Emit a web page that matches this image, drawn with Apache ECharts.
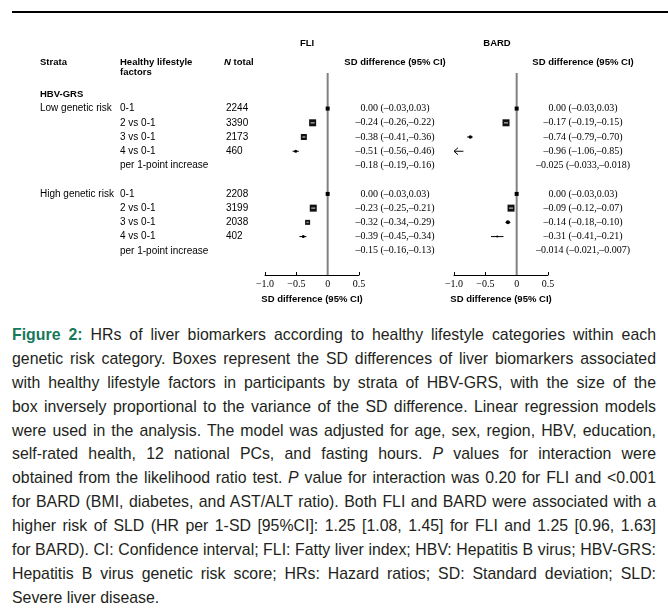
<!DOCTYPE html>
<html><head><meta charset="utf-8">
<script src="https://cdn.jsdelivr.net/npm/echarts@6/dist/echarts.min.js"></script>
<style>
html,body{margin:0;padding:0;background:#fff;}
#chart{position:absolute;left:0;top:0;width:668px;height:320px;}
#cap{position:absolute;left:12px;top:323px;width:644px;font-family:'Liberation Sans',Arial,sans-serif;font-size:17px;line-height:23.9px;color:#231f20;}
#cap .ln{transform-origin:0 0;text-align:justify;text-align-last:justify;height:23.9px;}
#cap .ln.last{text-align-last:left;}
#cap .fig{color:#16795b;font-weight:bold;}
</style></head>
<body>
<div id="chart"></div>
<div id="cap"></div>
<script>
// ---------- data ----------
var lifestyleLabels = ['0-1', '2 vs 0-1', '3 vs 0-1', '4 vs 0-1', 'per 1-point increase'];
var strataLabels = ['Low genetic risk', 'High genetic risk'];
var nLow = [2244, 3390, 2173, 460];
var nHigh = [2208, 3199, 2038, 402];

var fliLowEst = [0.00, -0.24, -0.38, -0.51, -0.18];
var fliLowLo  = [-0.03, -0.26, -0.41, -0.56, -0.19];
var fliLowHi  = [0.03, -0.22, -0.36, -0.46, -0.16];
var fliHighEst = [0.00, -0.23, -0.32, -0.39, -0.15];
var fliHighLo  = [-0.03, -0.25, -0.34, -0.45, -0.16];
var fliHighHi  = [0.03, -0.21, -0.29, -0.34, -0.13];

var bardLowEst = [0.00, -0.17, -0.74, -0.96, -0.025];
var bardLowLo  = [-0.03, -0.19, -0.79, -1.06, -0.033];
var bardLowHi  = [0.03, -0.15, -0.70, -0.85, -0.018];
var bardHighEst = [0.00, -0.09, -0.14, -0.31, -0.014];
var bardHighLo  = [-0.03, -0.12, -0.18, -0.41, -0.021];
var bardHighHi  = [0.03, -0.07, -0.10, -0.21, -0.007];

var xTicks = [-1.0, -0.5, 0, 0.5];

var captionLines = [
 '<span class="fig">Figure 2:</span> HRs of liver biomarkers according to healthy lifestyle categories within each',
 'genetic risk category. Boxes represent the SD differences of liver biomarkers associated',
 'with healthy lifestyle factors in participants by strata of HBV-GRS, with the size of the',
 'box inversely proportional to the variance of the SD difference. Linear regression models',
 'were used in the analysis. The model was adjusted for age, sex, region, HBV, education,',
 'self-rated health, 12 national PCs, and fasting hours. <i>P</i> values for interaction were',
 'obtained from the likelihood ratio test. <i>P</i> value for interaction was 0.20 for FLI and &lt;0.001',
 'for BARD (BMI, diabetes, and AST/ALT ratio). Both FLI and BARD were associated with a',
 'higher risk of SLD (HR per 1-SD [95%CI]: 1.25 [1.08, 1.45] for FLI and 1.25 [0.96, 1.63]',
 'for BARD). CI: Confidence interval; FLI: Fatty liver index; HBV: Hepatitis B virus; HBV-GRS:',
 'Hepatitis B virus genetic risk score; HRs: Hazard ratios; SD: Standard deviation; SLD:',
 'Severe liver disease.'
];

// ---------- styles (marker shapes / diameters) ----------
var kindFliLow = ['ref', 'box', 'box', 'dot'], sizeFliLow = [4, 7, 6, 3];
var kindFliHigh = ['ref', 'box', 'box', 'dot'], sizeFliHigh = [4, 7, 5, 3];
var kindBardLow = ['ref', 'box', 'dot', 'arrow'], sizeBardLow = [4, 7, 3.5, 0];
var kindBardHigh = ['ref', 'box', 'dot', 'dot'], sizeBardHigh = [4, 7, 4, 2];

var SANS = "'Liberation Sans', Arial, sans-serif";
var SERIF = "'Liberation Serif', 'Times New Roman', serif";
var HIGH_OFFSET = 6;
var plotRows = 4; // per 1-point row has no marker

function buildMarks(est, lo, hi, kinds, sizes, offset) {
  var out = [];
  for (var i = 0; i < plotRows; i++) {
    out.push({ value: [est[i], lo[i], hi[i], i + offset], kind: kinds[i], size: sizes[i] });
  }
  return out;
}

var fliMarks = buildMarks(fliLowEst, fliLowLo, fliLowHi, kindFliLow, sizeFliLow, 0)
  .concat(buildMarks(fliHighEst, fliHighLo, fliHighHi, kindFliHigh, sizeFliHigh, HIGH_OFFSET));
var bardMarks = buildMarks(bardLowEst, bardLowLo, bardLowHi, kindBardLow, sizeBardLow, 0)
  .concat(buildMarks(bardHighEst, bardHighLo, bardHighHi, kindBardHigh, sizeBardHigh, HIGH_OFFSET));

function makeRender(marks) {
  return function (params, api) {
    var m = marks[params.dataIndex];
    var est = api.value(0), lo = api.value(1), hi = api.value(2), row = api.value(3);
    var pe = api.coord([est, row]);
    var pl = api.coord([lo, row]);
    var ph = api.coord([hi, row]);
    var s = m.size, ch = [];
    if (m.kind === 'ref') {
      ch.push({ type: 'rect', shape: { x: pe[0] - s / 2, y: pe[1] - s / 2, width: s, height: s }, style: { fill: '#000' } });
    } else if (m.kind === 'box') {
      ch.push({ type: 'rect', shape: { x: pe[0] - s / 2, y: pe[1] - s / 2, width: s, height: s }, style: { fill: '#111' } });
      ch.push({ type: 'rect', shape: { x: pe[0] - s / 2 + 1.5, y: pe[1] - 0.75, width: s - 3, height: 1.5 }, style: { fill: '#9a9a9a' } });
    } else if (m.kind === 'dot') {
      ch.push({ type: 'line', shape: { x1: pl[0], y1: pl[1], x2: ph[0], y2: ph[1] }, style: { stroke: '#000', lineWidth: 1 } });
      ch.push({ type: 'circle', shape: { cx: pe[0], cy: pe[1], r: s / 2 }, style: { fill: '#000' } });
    } else if (m.kind === 'arrow') {
      var pMin = api.coord([-1, row]);
      ch.push({ type: 'line', shape: { x1: pMin[0], y1: pMin[1], x2: ph[0], y2: ph[1] }, style: { stroke: '#000', lineWidth: 1 } });
      ch.push({ type: 'polyline', shape: { points: [[pMin[0] + 4, pMin[1] - 3.5], [pMin[0], pMin[1]], [pMin[0] + 4, pMin[1] + 3.5]] }, style: { stroke: '#000', lineWidth: 1, fill: null } });
    }
    return { type: 'group', children: ch };
  };
}

var chart = echarts.init(document.getElementById('chart'), null, { renderer: 'canvas' });

function xAxisCfg(gi) {
  return {
    type: 'value', gridIndex: gi, min: -1, max: 0.5, interval: 0.5,
    axisLine: { show: true, onZero: false, lineStyle: { color: '#000', width: 1 } },
    axisTick: { show: true, inside: true, length: 3, lineStyle: { color: '#000' } },
    axisLabel: {
      margin: 4, color: '#000', fontFamily: SERIF, fontSize: 10,
      formatter: function (v) { return v === 0 ? '0' : (v < 0 ? '\u2212' : '') + Math.abs(v).toFixed(1); }
    },
    splitLine: { show: false },
    name: 'SD difference (95% CI)', nameLocation: 'middle', nameGap: 19,
    nameTextStyle: { color: '#000', fontFamily: SANS, fontWeight: 'bold', fontSize: 9.5 }
  };
}
function yAxisCfg(gi) {
  return { type: 'value', gridIndex: gi, min: -2.5, max: 11.7, inverse: true, show: false };
}

chart.setOption({
  animation: false,
  grid: [
    { left: 265, width: 94, top: 73, height: 202 },
    { left: 454, width: 94, top: 73, height: 202 }
  ],
  xAxis: [xAxisCfg(0), xAxisCfg(1)],
  yAxis: [yAxisCfg(0), yAxisCfg(1)],
  series: [
    { type: 'line', xAxisIndex: 0, yAxisIndex: 0, data: [[0, -2.5], [0, 11.7]], symbol: 'none', lineStyle: { color: '#808080', width: 2 }, z: 1 },
    { type: 'line', xAxisIndex: 1, yAxisIndex: 1, data: [[0, -2.5], [0, 11.7]], symbol: 'none', lineStyle: { color: '#808080', width: 2 }, z: 1 },
    { type: 'custom', xAxisIndex: 0, yAxisIndex: 0, data: fliMarks.map(function (m) { return m.value; }), renderItem: makeRender(fliMarks), clip: false, z: 3 },
    { type: 'custom', xAxisIndex: 1, yAxisIndex: 1, data: bardMarks.map(function (m) { return m.value; }), renderItem: makeRender(bardMarks), clip: false, z: 3 }
  ]
});

// ---------- texts placed via axis conversion ----------
function rowY(r) { return chart.convertToPixel({ yAxisIndex: 0 }, r); }
function fmt(v, d) { return (v < 0 ? '\u2013' : '') + Math.abs(v).toFixed(d); }
function ciText(e, l, h) {
  var d = (Math.abs(e) > 0 && Math.abs(e) < 0.05) ? 3 : 2;
  return fmt(e, d) + ' (' + fmt(l, d) + ',' + fmt(h, d) + ')';
}
function txt(x, y, t, font, align, color) {
  return { type: 'text', x: x, y: y, silent: true, style: { text: t, font: font, fill: color || '#000', align: align || 'left', verticalAlign: 'middle' } };
}
var g = [];
g.push({ type: 'line', shape: { x1: 12, y1: 12, x2: 668, y2: 12 }, style: { stroke: '#000', lineWidth: 2 } });
var HB = 'bold 9.5px ' + SANS, HN = '10px ' + SANS, SR = '10px ' + SERIF;
g.push(txt(307, 43, 'FLI', HB, 'center'));
g.push(txt(497, 43, 'BARD', HB, 'center'));
g.push(txt(40, 62, 'Strata', HB));
g.push(txt(120, 62, 'Healthy lifestyle', HB));
g.push(txt(120, 72, 'factors', HB));
g.push({ type: 'text', x: 224, y: 62, silent: true, style: { rich: { i: { font: 'italic bold 9.5px ' + SANS, fill: '#000' }, b: { font: HB, fill: '#000' } }, text: '{i|N}{b| total}', verticalAlign: 'middle' } });
g.push(txt(395, 62, 'SD difference (95% CI)', HB, 'center'));
g.push(txt(583, 62, 'SD difference (95% CI)', HB, 'center'));
g.push(txt(40, rowY(-1), 'HBV-GRS', HB));

var groups = [
  { off: 0, label: strataLabels[0], n: nLow, f: [fliLowEst, fliLowLo, fliLowHi], b: [bardLowEst, bardLowLo, bardLowHi] },
  { off: HIGH_OFFSET, label: strataLabels[1], n: nHigh, f: [fliHighEst, fliHighLo, fliHighHi], b: [bardHighEst, bardHighLo, bardHighHi] }
];
groups.forEach(function (gr) {
  g.push(txt(40, rowY(gr.off), gr.label, HN));
  lifestyleLabels.forEach(function (lab, i) {
    var y = rowY(gr.off + i);
    g.push(txt(120, y, lab, HN));
    if (i < gr.n.length) g.push(txt(226, y, String(gr.n[i]), HN));
    g.push(txt(395, y, ciText(gr.f[0][i], gr.f[1][i], gr.f[2][i]), SR, 'center'));
    g.push(txt(583, y, ciText(gr.b[0][i], gr.b[1][i], gr.b[2][i]), SR, 'center'));
  });
});
chart.setOption({ graphic: g });

// ---------- caption (justified, horizontally condensed real text) ----------
var cap = document.getElementById('cap');
var lineDivs = [], spans = [], maxW = 0;
captionLines.forEach(function (l, i) {
  var d = document.createElement('div');
  d.className = 'ln' + (i === captionLines.length - 1 ? ' last' : '');
  var s = document.createElement('span');
  s.style.whiteSpace = 'nowrap';
  s.innerHTML = l;
  d.appendChild(s);
  cap.appendChild(d);
  lineDivs.push(d); spans.push(s);
});
spans.forEach(function (s) { maxW = Math.max(maxW, s.getBoundingClientRect().width); });
var k = 642 / maxW;
lineDivs.forEach(function (d, i) {
  spans[i].style.whiteSpace = 'normal';
  d.style.width = (644 / k) + 'px';
  d.style.transform = 'scaleX(' + k + ')';
});
</script>
</body></html>
